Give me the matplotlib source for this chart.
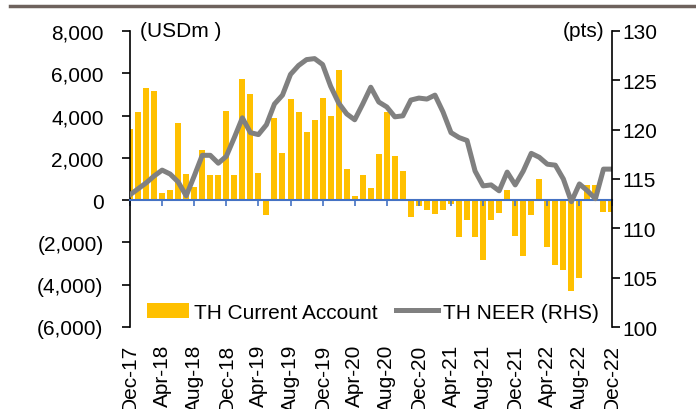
import matplotlib
matplotlib.use("Agg")
import matplotlib.pyplot as plt
from matplotlib.lines import Line2D
from matplotlib.ticker import FuncFormatter
import numpy as np

plt.rcParams['font.family'] = ['Liberation Sans', 'DejaVu Sans']

# monthly, Dec-17 .. Dec-22
months = ['Dec-17', 'Jan-18', 'Feb-18', 'Mar-18', 'Apr-18', 'May-18', 'Jun-18', 'Jul-18',
          'Aug-18', 'Sep-18', 'Oct-18', 'Nov-18', 'Dec-18', 'Jan-19', 'Feb-19', 'Mar-19',
          'Apr-19', 'May-19', 'Jun-19', 'Jul-19', 'Aug-19', 'Sep-19', 'Oct-19', 'Nov-19',
          'Dec-19', 'Jan-20', 'Feb-20', 'Mar-20', 'Apr-20', 'May-20', 'Jun-20', 'Jul-20',
          'Aug-20', 'Sep-20', 'Oct-20', 'Nov-20', 'Dec-20', 'Jan-21', 'Feb-21', 'Mar-21',
          'Apr-21', 'May-21', 'Jun-21', 'Jul-21', 'Aug-21', 'Sep-21', 'Oct-21', 'Nov-21',
          'Dec-21', 'Jan-22', 'Feb-22', 'Mar-22', 'Apr-22', 'May-22', 'Jun-22', 'Jul-22',
          'Aug-22', 'Sep-22', 'Oct-22', 'Nov-22', 'Dec-22']

current_account = [3360, 4150, 5280, 5150, 360, 470, 3660, 1230,
                   630, 2360, 1180, 1180, 4210, 1180, 5720, 5030,
                   1300, -720, 3900, 2220, 4780, 4180, 3240, 3800,
                   4840, 3990, 6160, 1490, 200, 1180, 570, 2170,
                   4180, 2100, 1370, -790, -300, -480, -670, -480,
                   -190, -1730, -920, -1750, -2850, -950, -630, 470,
                   -1700, -2650, -700, 1000, -2220, -3050, -3310, -4280,
                   -3690, 700, 700, -570, -570]

neer = [113.4, 114.0, 114.6, 115.3, 115.9, 115.5, 114.7, 113.3,
        115.3, 117.4, 117.4, 116.6, 117.3, 119.2, 121.2, 119.7,
        119.5, 120.5, 122.6, 123.5, 125.6, 126.5, 127.1, 127.2,
        126.6, 124.4, 122.7, 121.6, 121.0, 122.6, 124.3, 122.8,
        122.3, 121.3, 121.4, 123.0, 123.2, 123.1, 123.5, 121.8,
        119.7, 119.2, 118.9, 115.8, 114.3, 114.4, 113.8, 115.7,
        114.4, 115.8, 117.6, 117.2, 116.5, 116.4, 115.0, 112.7,
        114.5, 113.8, 113.0, 116.0, 116.0]

x = np.arange(len(months))
tick_pos = x[::4]
tick_lab = months[::4]

fs = 15

fig = plt.figure(figsize=(6.96, 4.10), dpi=100)
ax = fig.add_axes([0.1868, 0.2, 0.6918, 0.722])

ax.bar(x, current_account, width=0.75, color='#FFC000', label='TH Current Account')
ax.set_xlim(0, 60)
ax.set_ylim(-6000, 8000)
ax.set_yticks(np.arange(-6000, 8001, 2000))
ax.yaxis.set_major_formatter(FuncFormatter(
    lambda v, p: f"{v:,.0f}" if v >= 0 else f"({-v:,.0f})"))
ax.tick_params(axis='y', direction='out', length=6, width=1.2, pad=13, labelsize=fs)

# category axis crossing at zero
ax.spines['bottom'].set_position(('data', 0))
ax.spines['bottom'].set_color('#4472C4')
ax.spines['bottom'].set_linewidth(1.5)
ax.spines['top'].set_visible(False)
ax.spines['right'].set_visible(False)
ax.spines['left'].set_linewidth(1.2)
ax.set_xticks(tick_pos)
ax.tick_params(axis='x', direction='out', length=4, width=1.2, color='#4472C4',
               labelbottom=False)

sec = ax.secondary_xaxis('bottom')
sec.set_xticks(tick_pos, tick_lab, rotation=90)
sec.tick_params(length=0, pad=12, labelsize=fs)
sec.spines['bottom'].set_visible(False)

ax2 = ax.twinx()
ax2.plot(x, neer, color='#808080', lw=3.6, label='TH NEER (RHS)')
ax2.set_ylim(100, 130)
ax2.set_yticks(np.arange(100, 131, 5))
ax2.tick_params(axis='y', direction='out', length=6, width=1.2, pad=2, labelsize=fs)
for s in ['top', 'bottom', 'left']:
    ax2.spines[s].set_visible(False)
ax2.spines['right'].set_linewidth(1.2)

ax.text(0.02, 1.0, '(USDm )', transform=ax.transAxes, ha='left', va='center', fontsize=fs)
ax2.text(0.985, 1.0, '(pts)', transform=ax2.transAxes, ha='right', va='center', fontsize=fs)

h1, l1 = ax.get_legend_handles_labels()
h2, l2 = ax2.get_legend_handles_labels()
ax2.legend(h1 + h2, l1 + l2, loc='center left', bbox_to_anchor=(0.035, 0.05), ncol=2,
           frameon=False, fontsize=fs, handlelength=2.0, handletextpad=0.25,
           columnspacing=0.9, borderpad=0, borderaxespad=0)

# decorative rule across the top
fig.add_artist(Line2D([0.015, 1.0], [0.984, 0.984], color='#6E625D', lw=2.5))

fig.savefig('out.png', dpi=100)
